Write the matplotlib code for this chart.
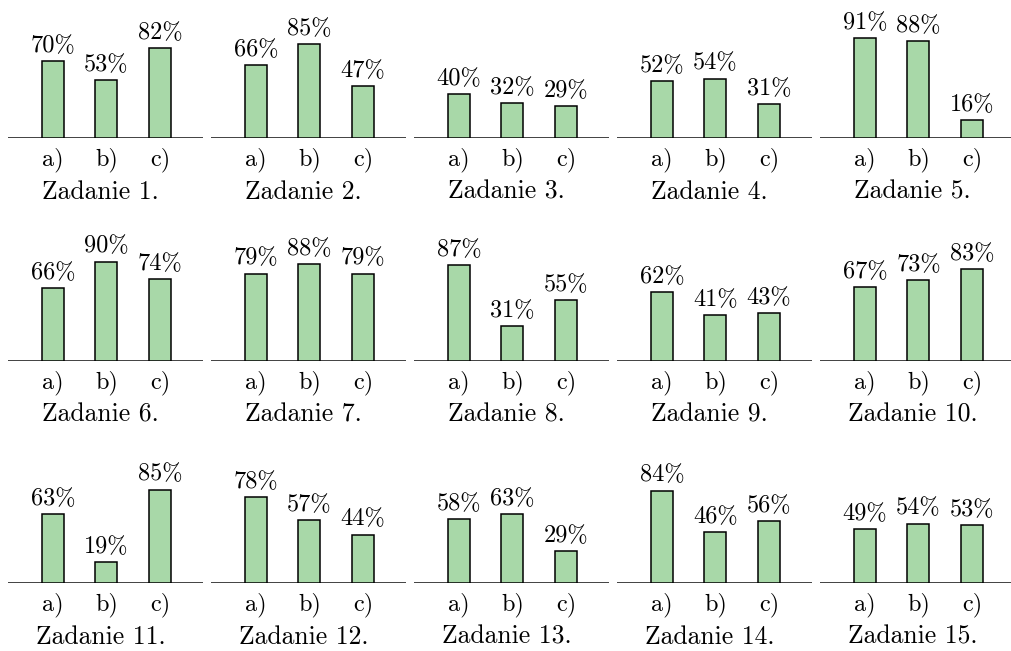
import matplotlib
matplotlib.use("Agg")
import matplotlib.pyplot as plt

# wyniki zadań (procent poprawnych odpowiedzi)
tasks = ["Zadanie %d." % i for i in range(1, 16)]
parts = ["a)", "b)", "c)"]
scores = [
    [70, 53, 82], [66, 85, 47], [40, 32, 29], [52, 54, 31], [91, 88, 16],
    [66, 90, 74], [79, 88, 79], [87, 31, 55], [62, 41, 43], [67, 73, 83],
    [63, 19, 85], [78, 57, 44], [58, 63, 29], [84, 46, 56], [49, 54, 53],
]

plt.rcParams['font.family'] = ['cmr10', 'DejaVu Serif']
plt.rcParams['axes.formatter.use_mathtext'] = True

W, H = 1012, 651
fig = plt.figure(figsize=(W / 100, H / 100), dpi=100)

px_per_pct = 1.1
spacing = 53.5
fs = 17.5

for k, (name, vals) in enumerate(zip(tasks, scores)):
    r, c = divmod(k, 5)
    x0 = 8 + 203 * c
    base = 138 + 222.5 * r
    ax = fig.add_axes([x0 / W, (H - base) / H, 195 / W, 120 / H])
    left = 1 - 45 / spacing
    ax.set_xlim(left, left + 195 / spacing)
    ax.set_ylim(0, 120 / px_per_pct)
    ax.axis('off')
    ax.axhline(0, color='#333333', lw=1.3, zorder=1)
    xs = [1, 2, 3]
    ax.bar(xs, vals, width=22 / spacing, color='#a8d8a8',
           edgecolor='black', linewidth=1.1, zorder=2)
    for x, v, p in zip(xs, vals, parts):
        ax.text(x, v + 9 / px_per_pct, f"{v}%", ha='center', va='baseline',
                fontsize=fs, clip_on=False)
        ax.text(x, -22 / px_per_pct, p, ha='center', va='center',
                fontsize=fs, clip_on=False)
    ax.text(2 - 6 / spacing, -54 / px_per_pct, name, ha='center', va='center',
            fontsize=18.5, clip_on=False)

fig.savefig("out.png", dpi=100)
